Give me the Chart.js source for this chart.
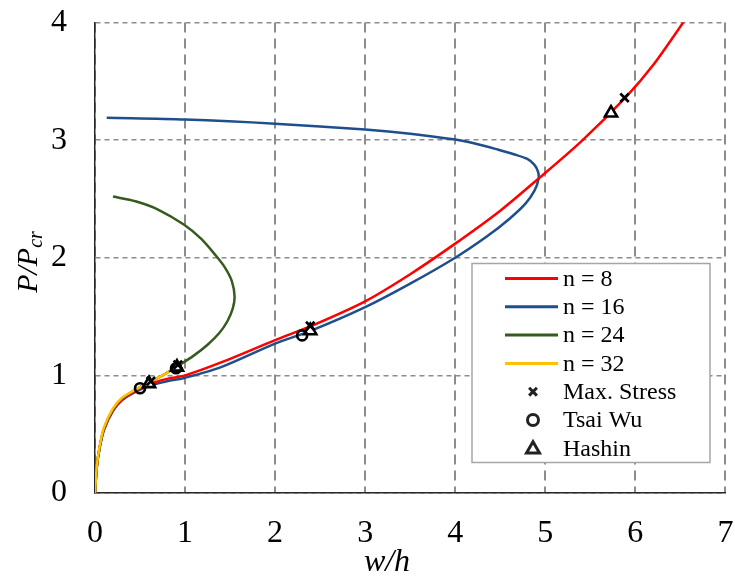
<!DOCTYPE html>
<html>
<head>
<meta charset="utf-8">
<script src="https://cdn.jsdelivr.net/npm/chart.js@4.4.1/dist/chart.umd.min.js"></script>
<style>
  html, body { margin: 0; padding: 0; background: #fff; }
</style>
</head>
<body>
<canvas id="chart" width="735" height="578"></canvas>
<script>
// curve data (w/h, P/Pcr)
const n8X  = [0, 0.02, 0.05, 0.1, 0.2, 0.3, 0.45, 0.6, 0.8, 1.0, 1.4, 2.0, 2.4, 3.0, 3.5, 4.0, 4.5, 4.92, 5.4, 5.9, 6.2, 6.55];
const n8Y  = [0, 0.22, 0.38, 0.54, 0.7, 0.79, 0.87, 0.925, 0.97, 1.0, 1.11, 1.30, 1.42, 1.63, 1.86, 2.12, 2.40, 2.67, 2.99, 3.37, 3.64, 4.02];

const n16X = [0, 0.02, 0.05, 0.1, 0.2, 0.3, 0.45, 0.6, 0.8, 1.0, 1.4, 2.0, 2.4, 3.0, 3.5, 4.0, 4.35, 4.6, 4.78, 4.88, 4.925, 4.92, 4.88, 4.8, 4.65, 4.47, 4.25, 4.0, 3.5, 3.0, 2.0, 1.0, 0.13];
const n16Y = [0, 0.22, 0.38, 0.54, 0.7, 0.79, 0.86, 0.91, 0.95, 0.98, 1.07, 1.27, 1.38, 1.58, 1.78, 2.0, 2.18, 2.33, 2.46, 2.57, 2.67, 2.73, 2.79, 2.84, 2.88, 2.92, 2.965, 3.005, 3.055, 3.09, 3.14, 3.175, 3.19];

const n24X = [0, 0.02, 0.05, 0.1, 0.2, 0.3, 0.45, 0.6, 0.75, 0.9, 1.1, 1.25, 1.38, 1.47, 1.53, 1.55, 1.52, 1.44, 1.34, 1.18, 0.99, 0.7, 0.45, 0.2];
const n24Y = [0, 0.22, 0.38, 0.55, 0.71, 0.80, 0.88, 0.94, 1.0, 1.07, 1.17, 1.26, 1.36, 1.46, 1.57, 1.67, 1.8, 1.92, 2.02, 2.16, 2.28, 2.41, 2.48, 2.52];

const n32X = [0, 0.02, 0.05, 0.1, 0.2, 0.3, 0.45, 0.6, 0.75, 0.9];
const n32Y = [0, 0.23, 0.39, 0.56, 0.72, 0.81, 0.88, 0.94, 1.0, 1.07];

// failure points
const maxStressX = [0.62, 0.92, 2.39, 5.88];
const maxStressY = [0.95, 1.09, 1.42, 3.36];
const tsaiWuX    = [0.5, 0.9, 2.3];
const tsaiWuY    = [0.89, 1.06, 1.34];
const hashinX    = [0.6, 0.91, 2.39, 5.73];
const hashinY    = [0.93, 1.07, 1.38, 3.23];

const xTicks = [0, 1, 2, 3, 4, 5, 6, 7];
const yTicks = [0, 1, 2, 3, 4];

const FONT = '"Liberation Serif", "Times New Roman", serif';

function pts(xs, ys) {
  return xs.map((x, i) => ({ x: x, y: ys[i] }));
}

function curve(label, xs, ys, color, order) {
  return {
    label: label,
    data: pts(xs, ys),
    showLine: true,
    borderColor: color,
    backgroundColor: color,
    borderWidth: 2.5,
    pointRadius: 0,
    tension: 0.3,
    order: order,
    kind: 'line'
  };
}

function marker(label, xs, ys, style, fill, r) {
  return {
    label: label,
    data: pts(xs, ys),
    showLine: false,
    pointStyle: style,
    pointRadius: r,
    pointBorderColor: '#000',
    pointBackgroundColor: fill,
    pointBorderWidth: 2.6,
    borderColor: '#000',
    backgroundColor: fill,
    order: 0,
    kind: 'marker'
  };
}

const datasets = [
  curve('n = 8', n8X, n8Y, '#ff0000', 4),
  curve('n = 16', n16X, n16Y, '#1f4e8c', 5),
  curve('n = 24', n24X, n24Y, '#375a1f', 2),
  curve('n = 32', n32X, n32Y, '#ffc000', 1),
  marker('Max. Stress', maxStressX, maxStressY, 'crossRot', 'rgba(0,0,0,0)', 6),
  marker('Tsai Wu', tsaiWuX, tsaiWuY, 'circle', 'rgba(0,0,0,0)', 5),
  marker('Hashin', hashinX, hashinY, 'triangle', '#fff', 7)
];

// legend box inside the plot, drawn by hand
const boxLegend = {
  id: 'boxLegend',
  afterDraw(chart) {
    const ctx = chart.ctx;
    ctx.save();
    ctx.fillStyle = '#fff';
    ctx.fillRect(472, 263.5, 238, 199);
    ctx.strokeStyle = '#a6a6a6';
    ctx.lineWidth = 1.5;
    ctx.strokeRect(472, 263.5, 238, 199);
    ctx.font = '24px ' + FONT;
    ctx.textBaseline = 'middle';
    chart.data.datasets.forEach((ds, i) => {
      const y = 278.5 + i * 28.3;
      if (ds.kind === 'line') {
        ctx.strokeStyle = ds.borderColor;
        ctx.lineWidth = 3;
        ctx.beginPath();
        ctx.moveTo(505, y);
        ctx.lineTo(558, y);
        ctx.stroke();
      } else {
        ctx.strokeStyle = '#222';
        ctx.fillStyle = 'rgba(0,0,0,0)';
        Chart.helpers.drawPoint(ctx, {
          pointStyle: ds.pointStyle,
          radius: ds.pointStyle === 'triangle' ? 7.5 : 5.5,
          borderWidth: 1.1,
          rotation: 0
        }, 533, y + (ds.pointStyle === 'triangle' ? 1 : 0));
      }
      ctx.fillStyle = '#000';
      ctx.fillText(ds.label, 563, y + 1);
    });
    ctx.restore();
  }
};

// axis titles (italic, with subscript)
const axisTitles = {
  id: 'axisTitles',
  afterDraw(chart) {
    const ctx = chart.ctx;
    ctx.save();
    ctx.fillStyle = '#000';
    ctx.textBaseline = 'alphabetic';
    ctx.font = 'italic 32px ' + FONT;
    ctx.textAlign = 'center';
    ctx.fillText('w/h', 387, 571);

    const main = 'P/P';
    const sub = 'cr';
    ctx.textAlign = 'left';
    ctx.font = 'italic 30px ' + FONT;
    const w1 = ctx.measureText(main).width;
    ctx.font = 'italic 20px ' + FONT;
    const w2 = ctx.measureText(sub).width;
    ctx.translate(37, 262);
    ctx.rotate(-Math.PI / 2);
    const x0 = -(w1 + w2) / 2;
    ctx.font = 'italic 30px ' + FONT;
    ctx.fillText(main, x0, 0);
    ctx.font = 'italic 20px ' + FONT;
    ctx.fillText(sub, x0 + w1, 5);
    ctx.restore();
  }
};

new Chart(document.getElementById('chart'), {
  type: 'scatter',
  data: { datasets: datasets },
  plugins: [boxLegend, axisTitles],
  options: {
    responsive: false,
    devicePixelRatio: 1,
    animation: false,
    layout: { padding: { top: 22.5, right: 5.5, left: 0, bottom: 0 } },
    plugins: {
      legend: { display: false },
      tooltip: { enabled: false }
    },
    scales: {
      x: {
        type: 'linear',
        min: xTicks[0],
        max: xTicks[xTicks.length - 1],
        afterBuildTicks: (s) => { s.ticks = xTicks.map(v => ({ value: v })); },
        afterFit: (s) => { s.height = 85; s.paddingRight = 0; s.paddingLeft = 0; },
        ticks: {
          font: { family: FONT, size: 32 },
          color: '#000',
          padding: 21,
          maxRotation: 0
        },
        grid: { color: '#8c8c8c', lineWidth: 2, drawTicks: false },
        border: { color: '#262626', width: 1.5, dash: [10, 6] }
      },
      y: {
        type: 'linear',
        min: yTicks[0],
        max: yTicks[yTicks.length - 1],
        afterBuildTicks: (s) => { s.ticks = yTicks.map(v => ({ value: v })); },
        afterFit: (s) => { s.width = 95; s.paddingTop = 0; s.paddingBottom = 0; },
        ticks: {
          font: { family: FONT, size: 32 },
          color: '#000',
          padding: 28
        },
        grid: { color: '#8c8c8c', lineWidth: 1.5, drawTicks: false },
        border: { color: '#262626', width: 1.5, dash: [5, 4] }
      }
    }
  }
});
</script>
</body>
</html>
